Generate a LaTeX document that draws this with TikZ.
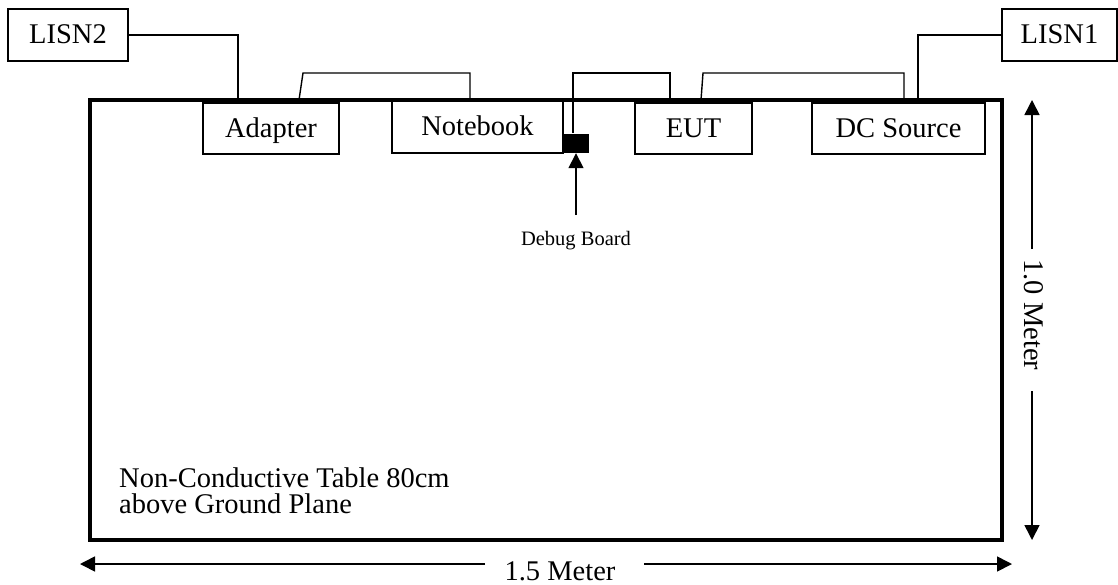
\documentclass[tikz,border=0pt]{standalone}
\usepackage{fontspec}
\setmainfont{Liberation Serif}
\usetikzlibrary{arrows.meta}
\begin{document}
\begin{tikzpicture}[x=1pt,y=-1pt,
  box/.style={draw, line width=1.4pt, inner sep=0pt, text height=20pt, text depth=3pt, font=\fontsize{28.5}{28.5}\selectfont},
  wire/.style={line width=1.4pt},
  tbl/.style={line width=3.4pt},
  dim/.style={line width=1.6pt},
  tip/.style={-{Triangle[length=15pt,width=15pt]}},
  lbl/.style={inner sep=0pt, font=\fontsize{28.5}{26}\selectfont}
]
\useasboundingbox (0,0) rectangle (1118,584);
% table
\draw[tbl] (90,100) rectangle (1002,540);
% boxes
\node[box, minimum width=120pt, minimum height=52pt] (lisn2) at (68,35) {LISN2};
\node[box, minimum width=115pt, minimum height=52pt] (lisn1) at (1059.5,35) {LISN1};
\node[box, minimum width=136pt, minimum height=51pt] (adapter) at (271,128.5) {Adapter};
\node[box, minimum width=171pt, minimum height=52pt] (notebook) at (477.5,127) {Notebook};
\node[box, minimum width=117pt, minimum height=51pt] (eut) at (693.5,128.5) {EUT};
\node[box, minimum width=173pt, minimum height=51pt] (dcsource) at (898.5,128.5) {DC Source};
\node[fill=black, minimum width=26pt, minimum height=19pt, inner sep=0pt] (debug) at (576,143.5) {};
% wire end coordinates
\coordinate (a1) at (238,100);
\coordinate (a2) at (299,100);
\coordinate (n1) at (470,100);
\coordinate (d1) at (573,133);
\coordinate (e1) at (670,100);
\coordinate (e2) at (701,100);
\coordinate (s1) at (904,100);
\coordinate (s2) at (918,100);
% wires
\draw[wire] (lisn2.east) -| (a1);
\draw[wire] (a2) -- (303,73) -- (470,73) -- (n1);
\draw[wire] (d1) -- (573,73) -- (670,73) -- (e1);
\draw[wire] (e2) -- (703,73) -- (904,73) -- (s1);
\draw[wire] (lisn1.west) -| (s2);
% debug board label
\node[inner sep=0pt, font=\fontsize{20.5}{20.5}\selectfont] (dbtext) at (576,241) {Debug Board};
\draw[dim, tip] (576,215) -- (debug.south);
% table text
\node[lbl, anchor=base west, align=left] (tabletext) at (119,513) {Non-Conductive Table 80cm\\above Ground Plane};
% dimensions
\node[lbl, anchor=base] (w15) at (560,580) {1.5 Meter};
\coordinate (wl) at (80,564);
\coordinate (wr) at (1012,564);
\draw[dim, tip] (485,564) -- (wl);
\draw[dim, tip] (644,564) -- (wr);
\node[lbl, rotate=-90] (h10) at (1034,315) {1.0 Meter};
\coordinate (ht) at (1032,100);
\coordinate (hb) at (1032,540);
\draw[dim, tip] (1032,249) -- (ht);
\draw[dim, tip] (1032,391) -- (hb);
\end{tikzpicture}
\end{document}
